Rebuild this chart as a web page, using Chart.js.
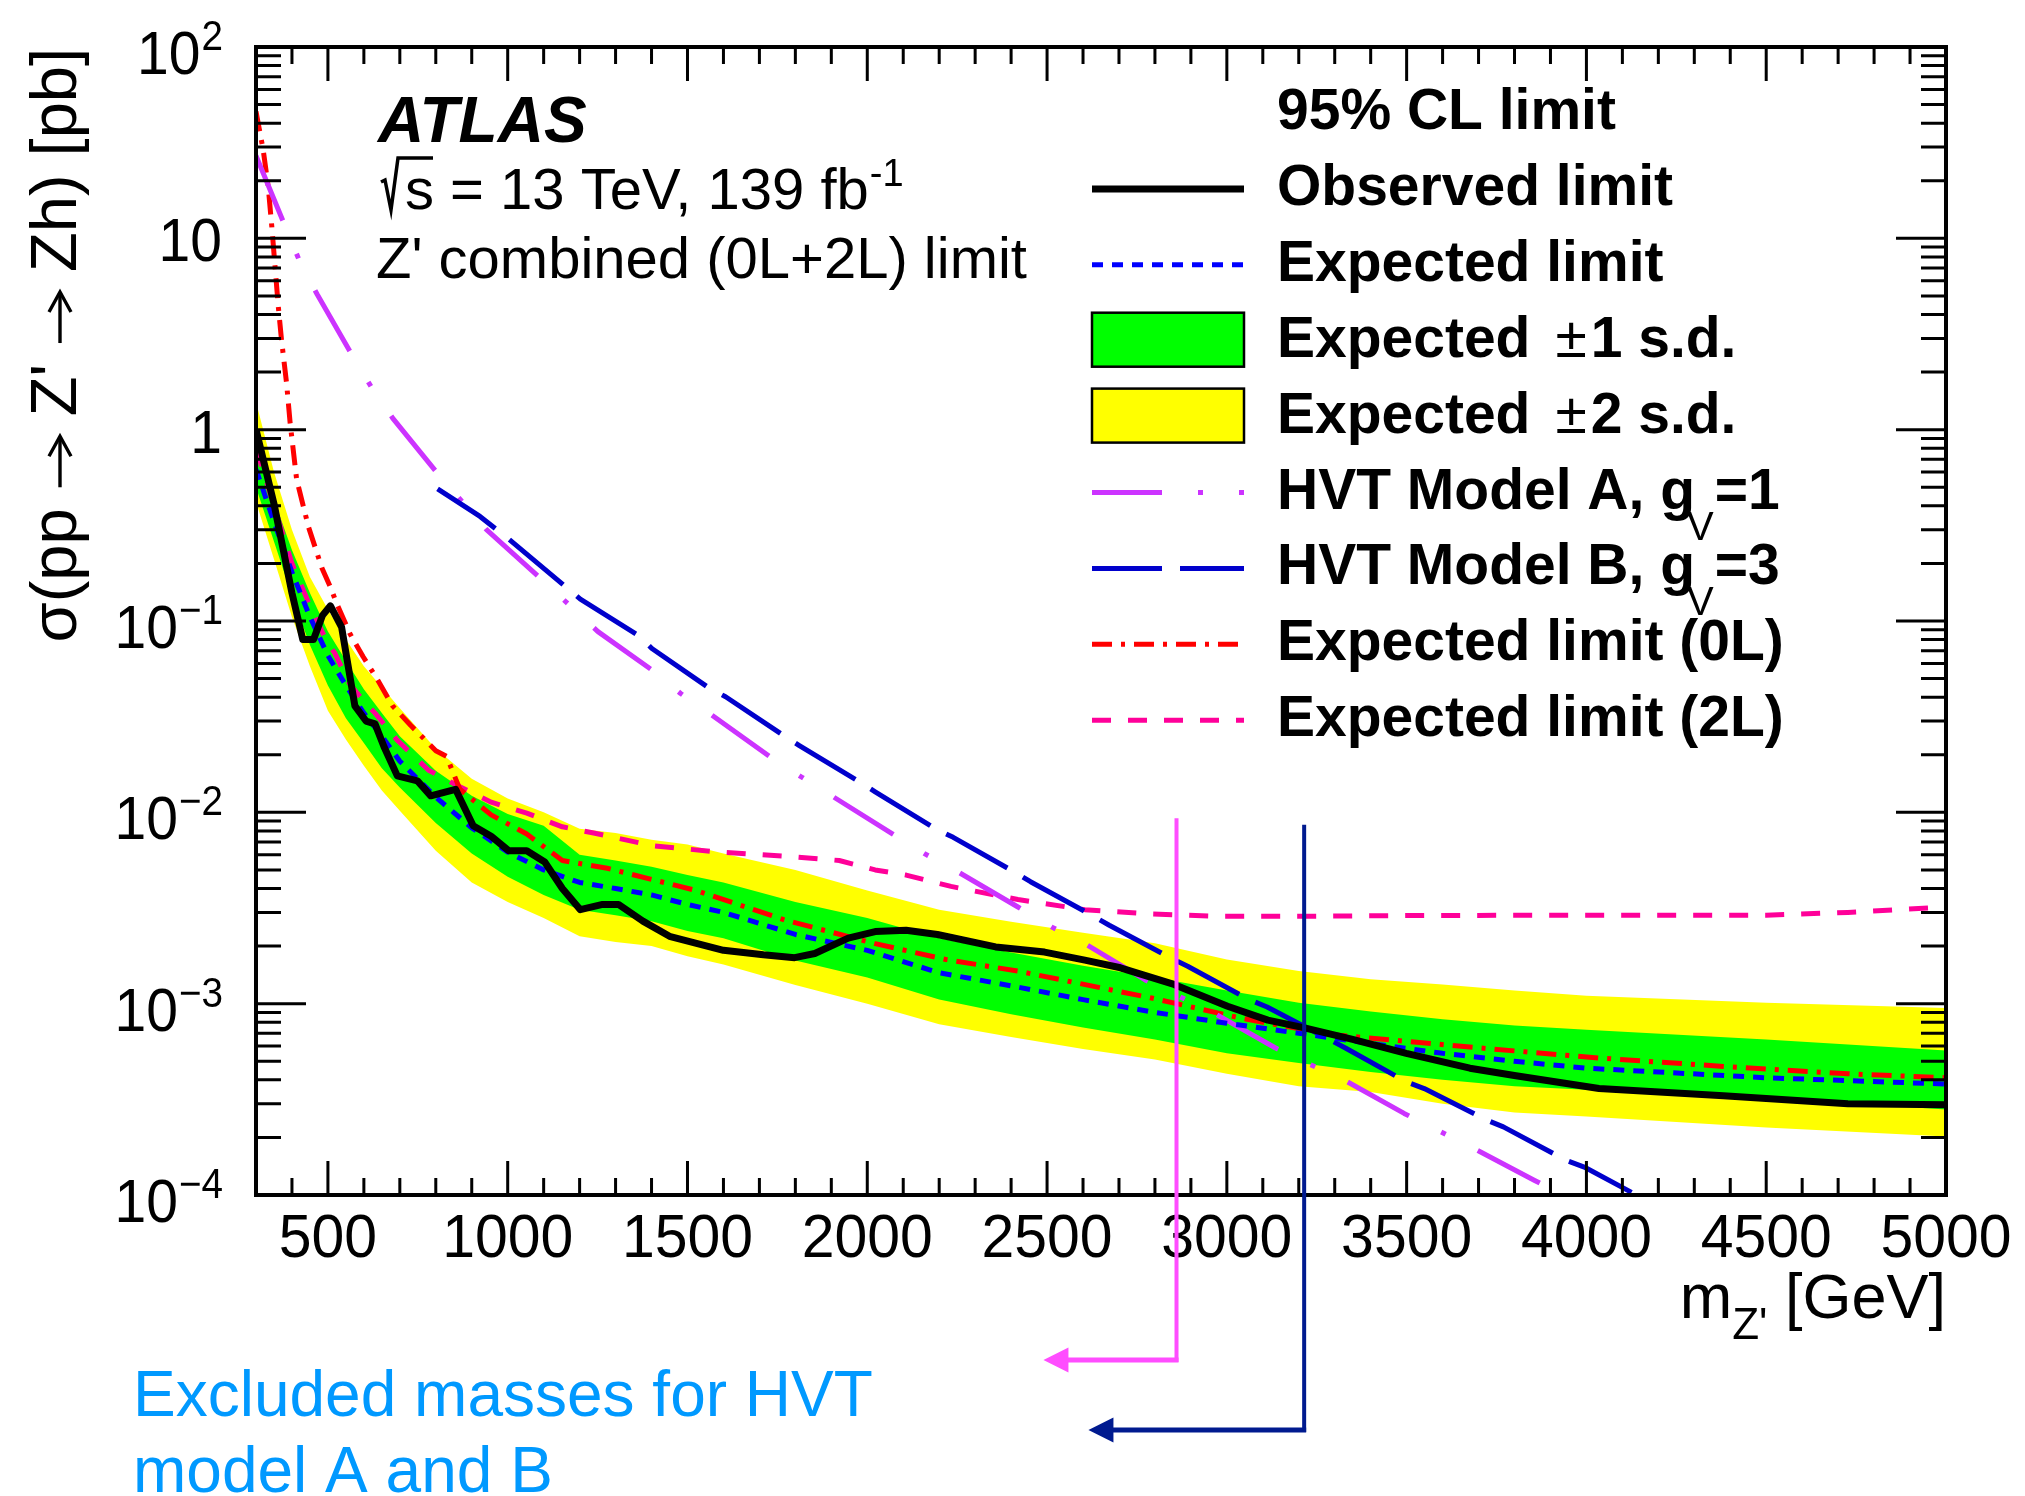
<!DOCTYPE html>
<html><head><meta charset="utf-8">
<script src="https://cdn.jsdelivr.net/npm/chart.js@4.4.1/dist/chart.umd.min.js"></script>
<style>html,body{margin:0;padding:0;background:#fff;}canvas{display:block;}</style>
</head><body>
<canvas id="c" width="2025" height="1496" style="width:2025px;height:1496px"></canvas>
<script>
// ---------------- data ----------------
const bandMass   = [300, 350, 400, 450, 500, 550, 600, 650, 700, 800, 900, 1000, 1100, 1200, 1300, 1400, 1500, 1600, 1800, 2000, 2200, 2400, 2600, 2800, 3000, 3200, 3400, 3600, 3800, 4000, 4500, 5000];
const expMedian  = [0.62, 0.33, 0.18, 0.105, 0.066, 0.046, 0.033, 0.025, 0.0185, 0.0120, 0.0083, 0.0062, 0.0050, 0.0043, 0.0040, 0.0037, 0.0033, 0.0030, 0.0023, 0.0019, 0.00145, 0.00124, 0.00105, 0.00090, 0.00079, 0.00070, 0.00062, 0.00055, 0.00050, 0.00046, 0.00041, 0.00038];
const expPlus1   = [0.80, 0.43, 0.235, 0.14, 0.088, 0.062, 0.044, 0.033, 0.025, 0.0165, 0.0122, 0.0098, 0.0085, 0.0060, 0.0056, 0.0052, 0.0047, 0.0043, 0.0034, 0.0028, 0.0022, 0.00185, 0.00158, 0.00137, 0.00117, 0.00101, 0.00091, 0.00083, 0.00077, 0.00073, 0.00065, 0.00057];
const expMinus1  = [0.50, 0.26, 0.135, 0.075, 0.046, 0.031, 0.023, 0.017, 0.0135, 0.0088, 0.0061, 0.0046, 0.0037, 0.0031, 0.0029, 0.0027, 0.0024, 0.0022, 0.00168, 0.00137, 0.00105, 0.00088, 0.00075, 0.00065, 0.00055, 0.00049, 0.00044, 0.00040, 0.00037, 0.000355, 0.00032, 0.00028];
const expPlus2   = [1.40, 0.60, 0.30, 0.17, 0.115, 0.080, 0.058, 0.045, 0.035, 0.0215, 0.0150, 0.0118, 0.0100, 0.0082, 0.0078, 0.0072, 0.0068, 0.0061, 0.0050, 0.0039, 0.0031, 0.00268, 0.00235, 0.00207, 0.0017, 0.00148, 0.00134, 0.00126, 0.00117, 0.0011, 0.00101, 0.00095];
const expMinus2  = [0.42, 0.21, 0.105, 0.058, 0.034, 0.024, 0.0175, 0.013, 0.0102, 0.0063, 0.0043, 0.0034, 0.0028, 0.00225, 0.0021, 0.0020, 0.00177, 0.00160, 0.00125, 0.00100, 0.00078, 0.00067, 0.00058, 0.00051, 0.00043, 0.00037, 0.000345, 0.00030, 0.00027, 0.000257, 0.000225, 0.000202];

const obsMass  = [300, 350, 400, 430, 460, 485, 507, 538, 575, 606, 631, 656, 693, 749, 786, 855, 904, 954, 1003, 1053, 1103, 1152, 1202, 1264, 1308, 1376, 1450, 1600, 1711, 1798, 1854, 1947, 2022, 2108, 2195, 2357, 2493, 2605, 2704, 2853, 3002, 3114, 3213, 3350, 3499, 3676, 3804, 4035, 4381, 4727, 5000];
const obsLimit = [1.0, 0.41, 0.14, 0.080, 0.080, 0.107, 0.120, 0.093, 0.036, 0.030, 0.029, 0.022, 0.0155, 0.0146, 0.0122, 0.0132, 0.0085, 0.0075, 0.0063, 0.0063, 0.0055, 0.0040, 0.0031, 0.0033, 0.0033, 0.0027, 0.00225, 0.0019, 0.00180, 0.00174, 0.00183, 0.0022, 0.00238, 0.00242, 0.0023, 0.00198, 0.00186, 0.00169, 0.00154, 0.00126, 0.00097, 0.00082, 0.00075, 0.00065, 0.00055, 0.00046, 0.00042, 0.00036, 0.00033, 0.00030, 0.000296];

const exp0LMass  = [300, 320, 334, 344, 353, 362, 371, 385, 395, 413, 446, 483, 507, 524, 561, 598, 636, 680, 730, 800, 830, 867, 954, 1053, 1152, 1277, 1525, 1773, 2022, 2220, 2419, 2791, 3039, 3288, 3689, 4035, 4381, 4727, 5000];
const exp0LLimit = [46, 29, 18.6, 11.5, 7.1, 4.4, 2.94, 1.75, 1.08, 0.55, 0.31, 0.19, 0.15, 0.124, 0.086, 0.065, 0.050, 0.036, 0.0285, 0.021, 0.0196, 0.0132, 0.0097, 0.0077, 0.0056, 0.0051, 0.0039, 0.00273, 0.00206, 0.0017, 0.00148, 0.00107, 0.00084, 0.00069, 0.00059, 0.00052, 0.00047, 0.00043, 0.00041];

const exp2LMass  = [300, 350, 400, 450, 500, 519, 560, 600, 631, 693, 780, 867, 954, 1053, 1152, 1239, 1401, 1587, 1773, 1922, 2022, 2108, 2233, 2419, 2605, 2791, 2978, 3200, 3536, 4035, 4500, 4727, 5000];
const exp2LLimit = [0.80, 0.40, 0.20, 0.12, 0.076, 0.068, 0.047, 0.038, 0.033, 0.0238, 0.0166, 0.0136, 0.0113, 0.0099, 0.0084, 0.0078, 0.0067, 0.0062, 0.0059, 0.0056, 0.0050, 0.0047, 0.0041, 0.0035, 0.0031, 0.00294, 0.00286, 0.00286, 0.00289, 0.0029, 0.0029, 0.0030, 0.0032];

const hvtAMass = [300, 380, 420, 470, 570, 620, 680, 805, 941, 1090, 1251, 1401, 1481, 1568, 1730, 1817, 1904, 2071, 2158, 2251, 2419, 2512, 2605, 2773, 2965, 3133, 3226, 3325, 3493, 3586, 3677, 3856, 4000];
const hvtAXsec = [27, 11.7, 7.7, 5.1, 2.4, 1.68, 1.15, 0.59, 0.30, 0.168, 0.088, 0.0555, 0.0418, 0.0322, 0.0195, 0.0153, 0.0121, 0.0077, 0.0061, 0.0049, 0.0032, 0.00252, 0.00206, 0.00133, 0.00089, 0.00059, 0.000486, 0.0004, 0.000267, 0.000218, 0.000179, 0.000119, 0.000087];

const hvtBMass = [805, 923, 1004, 1165, 1202, 1364, 1401, 1562, 1606, 1773, 1810, 1984, 2022, 2195, 2239, 2413, 2454, 2624, 2673, 2847, 2891, 3062, 3112, 3331, 3499, 3549, 3723, 3769, 3943, 3994, 4139, 4250];
const hvtBXsec = [0.49, 0.352, 0.267, 0.149, 0.130, 0.084, 0.0718, 0.0444, 0.0402, 0.0248, 0.0224, 0.0142, 0.0128, 0.0081, 0.0074, 0.00483, 0.00434, 0.0029, 0.00257, 0.00172, 0.00157, 0.00105, 0.00096, 0.000585, 0.00039, 0.00036, 0.000246, 0.000227, 0.000152, 0.00014, 0.0001, 0.000078];

// exclusion annotations (model A, model B)
const exclMass   = [2860, 3215];
const exclTopVal = [0.0093, 0.0086];
const exclTipMass= [2490, 2615];

// axis ticks / labels
const xTickVals  = [500, 1000, 1500, 2000, 2500, 3000, 3500, 4000, 4500, 5000];
const xTickLabels= ['500', '1000', '1500', '2000', '2500', '3000', '3500', '4000', '4500', '5000'];
const yTickVals  = [100, 10, 1, 0.1, 0.01, 0.001, 0.0001];
const yTickMain  = ['10', '10', '1', '10', '10', '10', '10'];
const yTickSup   = ['2', '', '', '\u22121', '\u22122', '\u22123', '\u22124'];

const legendHeader = '95% CL limit';
const legendLabels = ['Observed limit', 'Expected limit', 'Expected \u00b11 s.d.', 'Expected \u00b12 s.d.',
                      'HVT Model A, g_V=1', 'HVT Model B, g_V=3', 'Expected limit (0L)', 'Expected limit (2L)'];
const xTitleMain = 'm', xTitleSub = "Z'", xTitleUnit = ' [GeV]';
const yTitleParts = ['\u03c3(pp ', " Z' ", ' Zh) [pb]'];   // joined by arrows: σ(pp → Z' → Zh) [pb]
const excludedText = ['Excluded masses for HVT', 'model A and B'];

// ---------------- styles ----------------
const FONT = "'Liberation Sans', Arial, Helvetica, sans-serif";
const C = {
  yellow: '#ffff00', green: '#00ff00', obs: '#000000', exp: '#0000ff',
  hvtA: '#cc33ff', hvtB: '#0000cc', l0: '#ff0000', l2: '#ff0099',
  exclA: '#ff4dff', exclB: '#001a8f', note: '#0099ff'
};
const DASH = { exp: [11, 9], l0: [20, 9, 4, 9], l2: [19, 17], hvtA: [70, 36, 5, 36], hvtB: [70, 18] };

const pts = (xs, ys) => xs.map((x, i) => ({x: x, y: ys[i]}));

function line(label, xs, ys, color, width, dash, order) {
  return { label, data: pts(xs, ys), borderColor: color, borderWidth: width, borderDash: dash || [],
           borderCapStyle: 'butt', borderJoinStyle: 'round', pointRadius: 0, fill: false, tension: 0, order };
}

const datasets = [
  { label: 'y2u', data: pts(bandMass, expPlus2), borderWidth: 0, borderColor: 'rgba(0,0,0,0)', backgroundColor: C.yellow, fill: '+1', pointRadius: 0, tension: 0, order: 100 },
  { label: 'y2d', data: pts(bandMass, expMinus2), borderWidth: 0, borderColor: 'rgba(0,0,0,0)', fill: false, pointRadius: 0, tension: 0, order: 99 },
  { label: 'y1u', data: pts(bandMass, expPlus1), borderWidth: 0, borderColor: 'rgba(0,0,0,0)', backgroundColor: C.green, fill: '+1', pointRadius: 0, tension: 0, order: 98 },
  { label: 'y1d', data: pts(bandMass, expMinus1), borderWidth: 0, borderColor: 'rgba(0,0,0,0)', fill: false, pointRadius: 0, tension: 0, order: 97 },
  line('2L', exp2LMass, exp2LLimit, C.l2, 5, DASH.l2, 6),
  line('0L', exp0LMass, exp0LLimit, C.l0, 5, DASH.l0, 5),
  line('HVT A', hvtAMass, hvtAXsec, C.hvtA, 5, DASH.hvtA, 4),
  line('HVT B', hvtBMass, hvtBXsec, C.hvtB, 5, DASH.hvtB, 3),
  line('Expected', bandMass, expMedian, C.exp, 5, DASH.exp, 2),
  line('Observed', obsMass, obsLimit, C.obs, 7, [], 1)
];

// ---------------- drawing helpers ----------------
function txt(ctx, s, x, y, font, color, align, sx) {
  ctx.save();
  ctx.font = font; ctx.fillStyle = color; ctx.textBaseline = 'alphabetic'; ctx.textAlign = align || 'left';
  ctx.translate(x, y); ctx.scale(sx || 1, 1); ctx.fillText(s, 0, 0);
  ctx.restore();
}
function tw(ctx, s, font) { ctx.save(); ctx.font = font; const w = ctx.measureText(s).width; ctx.restore(); return w; }

const decor = {
  id: 'decor',
  beforeDraw(chart) {
    const ctx = chart.ctx;
    ctx.save(); ctx.fillStyle = '#fff'; ctx.fillRect(0, 0, chart.width, chart.height); ctx.restore();
  },
  afterDraw(chart) {
    const ctx = chart.ctx, ca = chart.chartArea, xs = chart.scales.x, ys = chart.scales.y;

    // ----- ticks -----
    ctx.save();
    ctx.strokeStyle = '#000'; ctx.lineWidth = 3; ctx.lineCap = 'butt';
    ctx.beginPath();
    for (let m = 300; m <= 5000; m += 100) {
      const px = xs.getPixelForValue(m);
      const len = (m % 500 === 0) ? 34 : 17;
      ctx.moveTo(px, ca.bottom); ctx.lineTo(px, ca.bottom - len);
      ctx.moveTo(px, ca.top); ctx.lineTo(px, ca.top + len);
    }
    for (let k = -4; k <= 2; k++) {
      for (let j = 1; j <= 9; j++) {
        const v = j * Math.pow(10, k);
        if (v > 100.0001) break;
        const py = ys.getPixelForValue(v);
        const len = (j === 1) ? 50 : 25;
        ctx.moveTo(ca.left, py); ctx.lineTo(ca.left + len, py);
        ctx.moveTo(ca.right, py); ctx.lineTo(ca.right - len, py);
      }
    }
    ctx.stroke();
    ctx.lineWidth = 4;
    ctx.strokeRect(ca.left, ca.top, ca.right - ca.left, ca.bottom - ca.top);
    ctx.restore();

    // ----- x tick labels -----
    const tickFont = '62px ' + FONT;
    xTickVals.forEach((v, i) => {
      txt(ctx, xTickLabels[i], xs.getPixelForValue(v), ca.bottom + 62, tickFont, '#000', 'center', 0.95);
    });
    // ----- y tick labels -----
    const supFont = '42px ' + FONT;
    const labRight = ca.left - 34;
    yTickVals.forEach((v, i) => {
      const py = ys.getPixelForValue(v);
      const sx = 0.92;
      const wm = tw(ctx, yTickMain[i], tickFont) * sx;
      const wsu = yTickSup[i] ? tw(ctx, yTickSup[i], supFont) * sx : 0;
      const base = yTickSup[i] ? py + 27 : py + 23;
      const x0 = labRight - wm - wsu;
      txt(ctx, yTickMain[i], x0, base, tickFont, '#000', 'left', sx);
      if (yTickSup[i]) txt(ctx, yTickSup[i], x0 + wm + 1, base - 24, supFont, '#000', 'left', sx);
    });

    // ----- axis titles -----
    const tFont = '63px ' + FONT, sFont = '44px ' + FONT;
    const wM = tw(ctx, xTitleMain, tFont), wS = tw(ctx, xTitleSub, sFont), wU = tw(ctx, xTitleUnit, tFont);
    const xt0 = ca.right - (wM + wS + wU);
    const xtb = ca.bottom + 123;
    txt(ctx, xTitleMain, xt0, xtb, tFont, '#000');
    txt(ctx, xTitleSub, xt0 + wM, xtb + 21, sFont, '#000');
    txt(ctx, xTitleUnit, xt0 + wM + wS, xtb, tFont, '#000');

    // y title, rotated, with long arrows drawn as strokes
    const yf = '65px ' + FONT, arrowW = 56;
    const wParts = yTitleParts.map(p => tw(ctx, p, yf));
    const total = wParts[0] + wParts[1] + wParts[2] + 2 * arrowW;
    ctx.save();
    ctx.translate(76, ca.top + 1);
    ctx.rotate(-Math.PI / 2);
    ctx.font = yf; ctx.fillStyle = '#000'; ctx.strokeStyle = '#000'; ctx.textAlign = 'left'; ctx.textBaseline = 'alphabetic';
    let cx = -total;
    const drawArrow = (x0) => {
      const ay = -16;
      ctx.lineWidth = 3.4; ctx.lineCap = 'butt';
      ctx.beginPath(); ctx.moveTo(x0 + 3, ay); ctx.lineTo(x0 + arrowW - 3, ay); ctx.stroke();
      ctx.beginPath(); ctx.moveTo(x0 + arrowW - 22, ay - 11); ctx.lineTo(x0 + arrowW - 2, ay); ctx.lineTo(x0 + arrowW - 22, ay + 11); ctx.stroke();
    };
    ctx.fillText(yTitleParts[0], cx, 0); cx += wParts[0];
    drawArrow(cx); cx += arrowW;
    ctx.fillText(yTitleParts[1], cx, 0); cx += wParts[1];
    drawArrow(cx); cx += arrowW;
    ctx.fillText(yTitleParts[2], cx, 0);
    ctx.restore();

    // ----- ATLAS labels -----
    txt(ctx, 'ATLAS', 378, ca.top + 95, 'italic bold 64px ' + FONT, '#000');
    const lf = '58px ' + FONT;
    ctx.save();
    ctx.strokeStyle = '#000'; ctx.lineWidth = 3.5; ctx.lineJoin = 'miter';
    ctx.beginPath();
    ctx.moveTo(381, 182); ctx.lineTo(385, 180); ctx.lineTo(391, 210); ctx.lineTo(398, 158); ctx.lineTo(433, 158);
    ctx.stroke();
    ctx.restore();
    const l1 = 's = 13 TeV, 139 fb';
    txt(ctx, l1, 405, 209, lf, '#000');
    txt(ctx, '-1', 405 + tw(ctx, l1, lf) + 1, 186, '38px ' + FONT, '#000');
    txt(ctx, "Z' combined (0L+2L) limit", 376, 278, lf, '#000');

    // ----- legend -----
    const legX0 = 1092, legX1 = 1244, legTX = 1277, base0 = 129, step = 75.9;
    const bf = 'bold 57px ' + FONT, nf = '57px ' + FONT;
    txt(ctx, legendHeader, legTX, base0, bf, '#000');
    const styles = [
      {type: 'line', color: C.obs, w: 7, dash: []},
      {type: 'line', color: C.exp, w: 5, dash: DASH.exp},
      {type: 'box', color: C.green},
      {type: 'box', color: C.yellow},
      {type: 'line', color: C.hvtA, w: 5, dash: DASH.hvtA},
      {type: 'line', color: C.hvtB, w: 5, dash: DASH.hvtB},
      {type: 'line', color: C.l0, w: 5, dash: DASH.l0},
      {type: 'line', color: C.l2, w: 5, dash: DASH.l2}
    ];
    legendLabels.forEach((lab, i) => {
      const base = base0 + step * (i + 1);
      const st = styles[i];
      ctx.save();
      if (st.type === 'line') {
        ctx.strokeStyle = st.color; ctx.lineWidth = st.w; ctx.setLineDash(st.dash); ctx.lineCap = 'butt';
        ctx.beginPath(); ctx.moveTo(legX0, base - 16); ctx.lineTo(legX1, base - 16); ctx.stroke();
      } else {
        ctx.fillStyle = st.color; ctx.fillRect(legX0, base - 44, legX1 - legX0, 54);
        ctx.strokeStyle = '#000'; ctx.lineWidth = 2.5; ctx.strokeRect(legX0, base - 44, legX1 - legX0, 54);
      }
      ctx.restore();
      if (lab.indexOf('\u00b1') >= 0) {
        const parts = lab.split('\u00b1');
        const a = parts[0].trim();
        txt(ctx, a, legTX, base, bf, '#000');
        const xpm = legTX + tw(ctx, a, bf) + 25;
        txt(ctx, '\u00b1', xpm, base, nf, '#000');
        txt(ctx, parts[1], xpm + tw(ctx, '\u00b1', nf) + 4, base, bf, '#000');
      } else if (lab.indexOf('_V') >= 0) {
        const parts = lab.split('_V');
        txt(ctx, parts[0], legTX, base, bf, '#000');
        const xv = legTX + tw(ctx, parts[0], bf) - 8;
        const vf = '40px ' + FONT;
        txt(ctx, 'V', xv, base + 31, vf, '#000');
        txt(ctx, parts[1], xv + tw(ctx, 'V', vf) + 1, base, bf, '#000');
      } else {
        txt(ctx, lab, legTX, base, bf, '#000');
      }
    });

    // ----- exclusion markers -----
    const drops = [165, 235];
    const cols = [C.exclA, C.exclB];
    exclMass.forEach((m, i) => {
      const px = xs.getPixelForValue(m);
      const top = ys.getPixelForValue(exclTopVal[i]);
      const yb = ca.bottom + drops[i];
      const tip = xs.getPixelForValue(exclTipMass[i]);
      ctx.save();
      ctx.strokeStyle = cols[i]; ctx.fillStyle = cols[i]; ctx.lineCap = 'butt';
      ctx.lineWidth = 4;
      ctx.beginPath(); ctx.moveTo(px, top); ctx.lineTo(px, yb + 2); ctx.stroke();
      ctx.lineWidth = 5;
      ctx.beginPath(); ctx.moveTo(px + 2, yb); ctx.lineTo(tip + 20, yb); ctx.stroke();
      ctx.beginPath(); ctx.moveTo(tip, yb); ctx.lineTo(tip + 25, yb - 12.5); ctx.lineTo(tip + 25, yb + 12.5); ctx.closePath(); ctx.fill();
      ctx.restore();
    });

    // ----- note text -----
    txt(ctx, excludedText[0], 133, 1416, '64px ' + FONT, C.note);
    txt(ctx, excludedText[1], 133, 1492, '64px ' + FONT, C.note);
  }
};

new Chart(document.getElementById('c'), {
  type: 'line',
  data: { datasets },
  options: {
    responsive: false, animation: false, devicePixelRatio: 1,
    layout: { padding: { left: 256, right: 79, top: 47, bottom: 301 } },
    plugins: { legend: { display: false }, tooltip: { enabled: false }, filler: { propagate: false } },
    elements: { point: { radius: 0 } },
    scales: {
      x: { type: 'linear', min: 300, max: 5000, display: false },
      y: { type: 'logarithmic', min: 0.0001, max: 100, display: false }
    }
  },
  plugins: [decor]
});
</script>
</body></html>
